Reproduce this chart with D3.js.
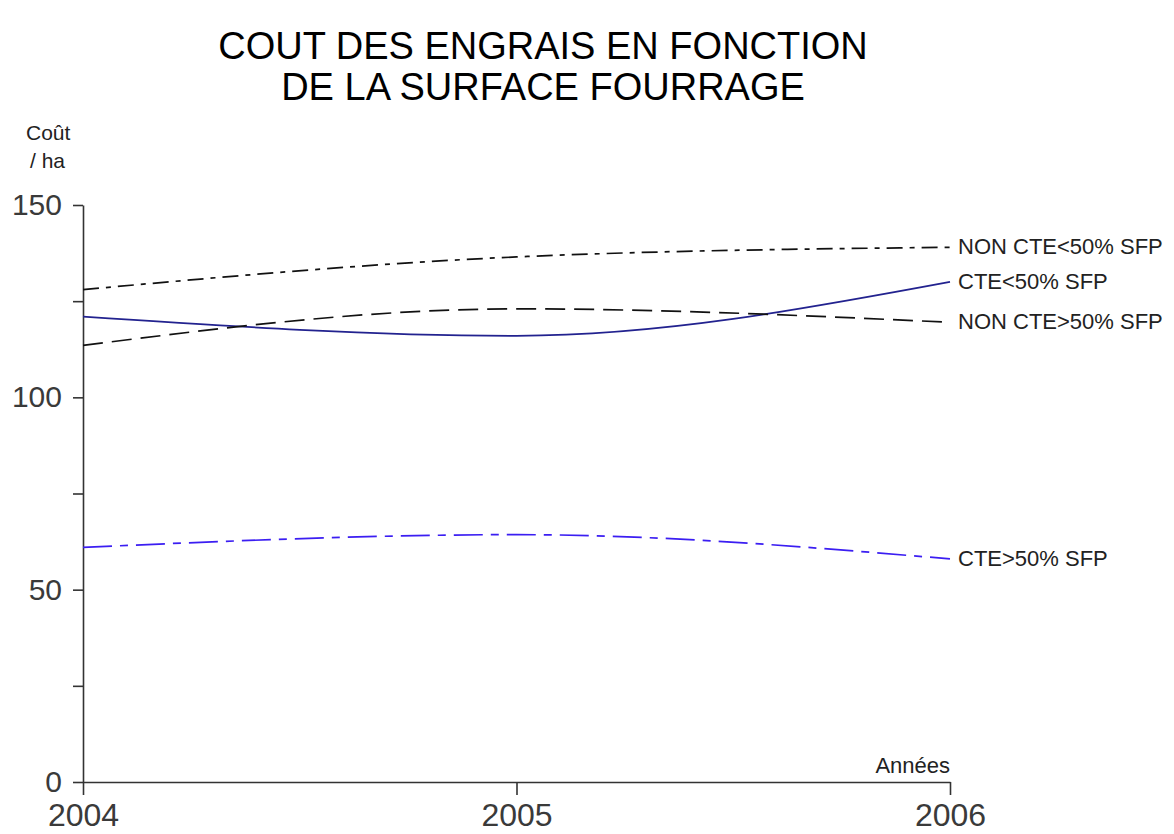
<!DOCTYPE html>
<html>
<head>
<meta charset="utf-8">
<script src="https://cdn.jsdelivr.net/npm/d3@7"></script>
<style>
  body { margin: 0; background: #fff; }
  svg { font-family: "Liberation Sans", Arial, sans-serif; }
</style>
</head>
<body>
<div id="chart"></div>
<script>
// Coût des engrais par ha, 2004-2006
const years = [2004, 2005, 2006];
const nonCteInf50 = [128, 136.5, 139];
const cteInf50 = [121, 116, 130];
const nonCteSup50 = [113.5, 123, 119.5];
const cteSup50 = [61, 64.3, 58];
const seriesNames = ["NON CTE<50% SFP", "CTE<50% SFP", "NON CTE>50% SFP", "CTE>50% SFP"];
const yTicks = [0, 25, 50, 75, 100, 125, 150];

const W = 1174, H = 834;

const svg = d3.select("#chart").append("svg")
  .attr("width", W)
  .attr("height", H);

const x = d3.scaleLinear().domain([2004, 2006]).range([83, 950]);
const y = d3.scaleLinear().domain([0, 150]).range([782, 205]);

// title
svg.append("text")
  .attr("x", 543).attr("y", 59)
  .attr("text-anchor", "middle")
  .attr("font-size", 38)
  .text("COUT DES ENGRAIS EN FONCTION");
svg.append("text")
  .attr("x", 543).attr("y", 100)
  .attr("text-anchor", "middle")
  .attr("font-size", 38)
  .text("DE LA SURFACE FOURRAGE");

// y label (cut on the right like the original)
svg.append("clipPath").attr("id", "ylab")
  .append("rect").attr("x", 0).attr("y", 110).attr("width", 74).attr("height", 70);
const ylab = svg.append("g").attr("clip-path", "url(#ylab)");
ylab.append("text").attr("x", 26).attr("y", 140).attr("font-size", 21).attr("fill", "#222").text("Coût");
ylab.append("text").attr("x", 30).attr("y", 168).attr("font-size", 21).attr("fill", "#222").text("/ ha");

// axes
const yAxis = svg.append("g")
  .attr("transform", "translate(83,0)")
  .call(d3.axisLeft(y).tickValues(yTicks).tickSize(10).tickSizeOuter(0).tickPadding(11)
    .tickFormat(d => d % 50 === 0 ? d : ""));
yAxis.selectAll("text").attr("font-size", 30).attr("fill", "#3a3a3a").attr("font-family", "Liberation Sans, Arial, sans-serif");

const xAxis = svg.append("g")
  .attr("transform", "translate(0,782)")
  .call(d3.axisBottom(x).tickValues(years).tickSize(13).tickSizeOuter(0).tickPadding(8)
    .tickFormat(d3.format("d")));
xAxis.selectAll("text").attr("font-size", 32).attr("fill", "#3a3a3a").attr("font-family", "Liberation Sans, Arial, sans-serif");

svg.selectAll(".domain, .tick line").attr("stroke", "#333").attr("stroke-width", 1.6);

svg.append("text")
  .attr("x", 950).attr("y", 773)
  .attr("text-anchor", "end")
  .attr("font-size", 22)
  .attr("fill", "#222")
  .text("Années");

// lines
const series = [
  { name: seriesNames[0], values: nonCteInf50, color: "#111", dash: "16,7,5,7" },
  { name: seriesNames[1], values: cteInf50, color: "#22228f", dash: null },
  { name: seriesNames[2], values: nonCteSup50, color: "#111", dash: "20,9" },
  { name: seriesNames[3], values: cteSup50, color: "#3b1ef2", dash: "29,8,8,8" }
];

const line = d3.line()
  .x((d, i) => x(years[i]))
  .y(d => y(d))
  .curve(d3.curveMonotoneX);

svg.append("g").selectAll("path")
  .data(series)
  .join("path")
  .attr("d", d => line(d.values))
  .attr("fill", "none")
  .attr("stroke", d => d.color)
  .attr("stroke-width", 1.7)
  .attr("stroke-dasharray", d => d.dash);

// end labels
svg.append("g").selectAll("text")
  .data(series)
  .join("text")
  .attr("x", 958)
  .attr("y", d => y(d.values[d.values.length - 1]) + 7)
  .attr("font-size", 22)
  .attr("fill", "#222")
  .text(d => d.name);
</script>
</body>
</html>
